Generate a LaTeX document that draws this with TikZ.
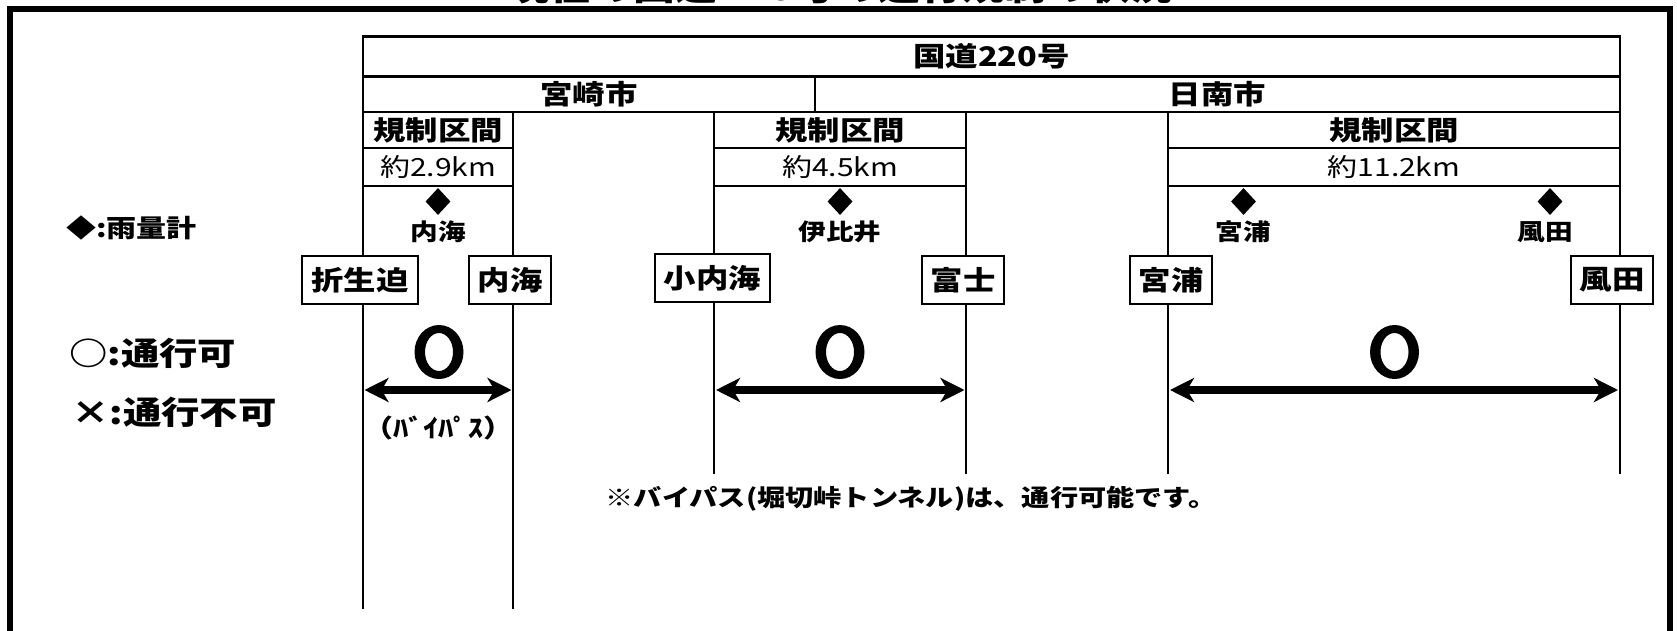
\documentclass[tikz,border=0pt]{standalone}
\usepackage{fontspec}
\setmainfont{Noto Sans CJK JP}[FakeStretch=1.2]
\usetikzlibrary{arrows.meta,shapes.geometric}
\newcommand\jsz[1]{\fontsize{#1pt}{#1pt}\selectfont}
\begin{document}
\begin{tikzpicture}[x=1pt,y=-1pt,
  tbl/.style={line width=2.6pt},
  vln/.style={line width=2.2pt},
  hdr/.style={font=\bfseries\jsz{27}, inner sep=0pt},
  dist/.style={font=\jsz{25}, inner sep=0pt},
  gauge/.style={diamond, fill=black, minimum width=25pt, minimum height=27pt, inner sep=0pt},
  glabel/.style={font=\bfseries\jsz{23}, inner sep=0pt},
  place/.style={draw, line width=2pt, fill=white, font=\bfseries\jsz{27}, minimum height=48pt, inner xsep=9pt, inner ysep=0pt},
  legend/.style={font=\bfseries\jsz{32}, inner sep=0pt, anchor=west},
  twoway/.style={line width=8pt, {Stealth[length=24pt,width=24pt,inset=7pt]}-{Stealth[length=24pt,width=24pt,inset=7pt]}},
  okmark/.style={fill=black, even odd rule},
]
\clip (0,0) rectangle (1677,631);
% title (cut off by the frame)
\node[font=\bfseries\jsz{35}, anchor=base, inner sep=0pt] (title) at (840,1) {現在の国道220号の通行規制の状況};
% frame
\draw[line width=6pt] (10,631) -- (10,9) -- (1669.5,9) -- (1669.5,631);
% header table
\draw[tbl] (363,36.5) rectangle (1620,112);
\draw[tbl] (363,76.5) -- (1620,76.5);
\draw[tbl] (815,76.5) -- (815,112);
\node[hdr] (road) at (991.5,56.5) {国道220号};
\node[hdr] (miya) at (589,94.5) {宮崎市};
\node[hdr] (nich) at (1217.5,94.5) {日南市};
% section rows
\draw[tbl] (363,148) -- (513,148) (363,186) -- (513,186);
\draw[tbl] (714,148) -- (966,148) (714,186) -- (966,186);
\draw[tbl] (1168,148) -- (1620,148) (1168,186) -- (1620,186);
% vertical lines
\draw[vln] (363,112) -- (363,609);
\draw[vln] (513,112) -- (513,609);
\draw[vln] (714,112) -- (714,474);
\draw[vln] (966,112) -- (966,474);
\draw[vln] (1168,112) -- (1168,474);
\draw[vln] (1620,112) -- (1620,474);
% section texts
\node[hdr] (kA) at (438,130) {規制区間};
\node[dist] (dA) at (438,167) {約2.9km};
\node[hdr] (kB) at (840,130) {規制区間};
\node[dist] (dB) at (840,167) {約4.5km};
\node[hdr] (kC) at (1394,130) {規制区間};
\node[dist] (dC) at (1394,167) {約11.2km};
% rain gauges
\node[gauge] (gA) at (438,201.5) {};
\node[glabel] (gAl) at (438,232) {内海};
\node[gauge] (gB) at (840,201.5) {};
\node[glabel] (gBl) at (840,232) {伊比井};
\node[gauge] (gC1) at (1243.5,201.5) {};
\node[glabel] (gC1l) at (1243.5,232) {宮浦};
\node[gauge] (gC2) at (1550,201.5) {};
\node[glabel] (gC2l) at (1545,232) {風田};
% place boxes
\node[place] (oryu) at (360,280) {折生迫};
\node[place] (uchi) at (510,280) {内海};
\node[place] (kouchi) at (712.5,278) {小内海};
\node[place] (fuji) at (963,280) {富士};
\node[place] (miyaura) at (1171,280) {宮浦};
\node[place] (koi) at (1612,279.5) {風田};
% open marks
\fill[okmark] (439,352) ellipse [x radius=24.5pt, y radius=27pt] (439,352) ellipse [x radius=14pt, y radius=19pt];
\fill[okmark] (840,352) ellipse [x radius=24.5pt, y radius=27pt] (840,352) ellipse [x radius=14pt, y radius=19pt];
\fill[okmark] (1394.5,352) ellipse [x radius=24.5pt, y radius=27pt] (1394.5,352) ellipse [x radius=14pt, y radius=19pt];
% arrows
\coordinate (aW) at (364.5,390);
\coordinate (aE) at (511.5,390);
\coordinate (bW) at (716,390);
\coordinate (bE) at (964.5,390);
\coordinate (cW) at (1170,390);
\coordinate (cE) at (1618,390);
\draw[twoway] (aW) -- (aE);
\draw[twoway] (bW) -- (bE);
\draw[twoway] (cW) -- (cE);
\node[font=\bfseries\jsz{25}, inner sep=0pt] (byp) at (438,428) {（ﾊﾞｲﾊﾟｽ）};
% note
\node[font=\bfseries\jsz{23.5}, inner sep=0pt] (note) at (911,499) {※バイパス(堀切峠トンネル)は、通行可能です。};
% legend
\node[font=\bfseries\jsz{25}, anchor=west, inner sep=0pt] (lg1) at (66,228) {◆:雨量計};
\node[legend] (lg2) at (69,353) {○:通行可};
\node[legend] (lg3) at (71,412) {×:通行不可};
\end{tikzpicture}
\end{document}
